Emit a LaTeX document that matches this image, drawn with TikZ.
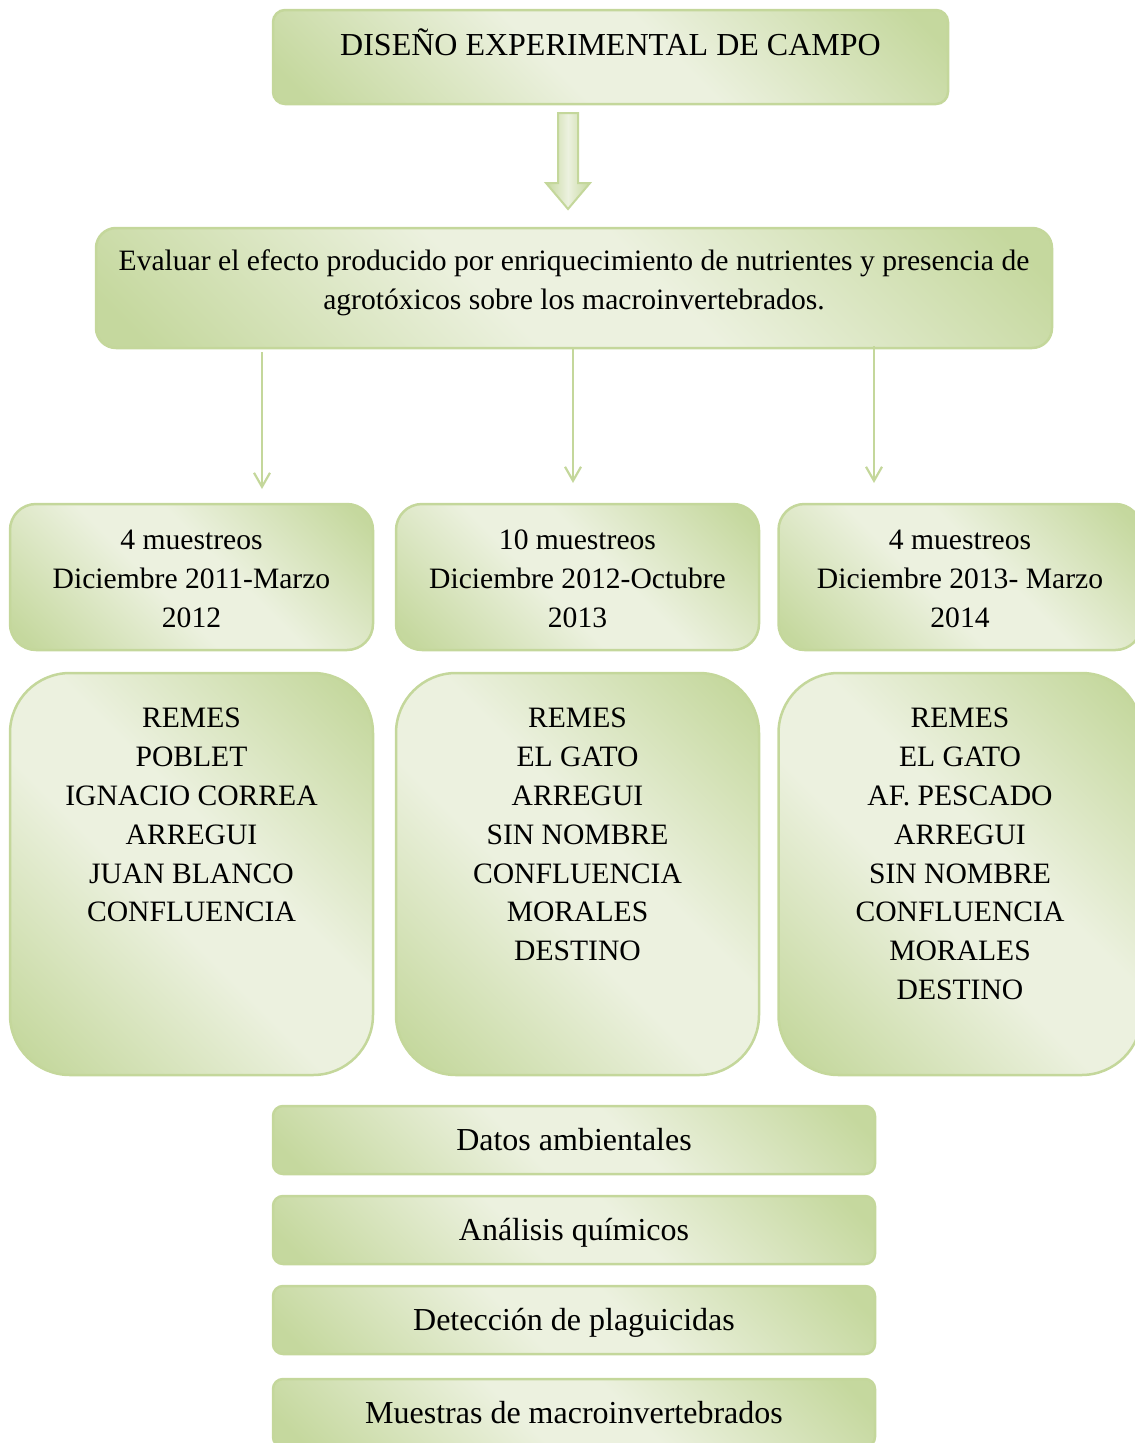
\documentclass[tikz,border=0pt]{standalone}
\usepackage{fontspec}
\setmainfont{Liberation Serif}
\usetikzlibrary{arrows.meta}
\begin{document}
\definecolor{gdark}{RGB}{197,216,158}
\definecolor{glight}{RGB}{236,241,223}
\definecolor{gline}{RGB}{196,215,155}
\pgfdeclarehorizontalshading{gsh}{100bp}{color(0bp)=(gdark); color(18bp)=(gdark); color(44bp)=(glight); color(56bp)=(glight); color(82bp)=(gdark); color(100bp)=(gdark)}
\begin{tikzpicture}[x=1pt,y=-1pt,
  gbox/.style={draw=gline, line width=2.5pt, shading=gsh, shading angle=45, inner sep=0pt},
  txt/.style={font=\fontsize{29.6}{38.8}\selectfont, align=center, text=black, inner sep=0pt},
  btxt/.style={font=\fontsize{32}{39}\selectfont, align=center, text=black, inner sep=0pt, anchor=base},
  conn/.style={draw=gline, line width=2.2pt, -{Straight Barb[length=14pt,width=16pt,line width=2.2pt]}}]
\useasboundingbox (0,0) rectangle (1135,1443);
\clip (0,0) rectangle (1135,1443);
% top box
\node[gbox, rounded corners=12pt, minimum width=675pt, minimum height=94pt] (top) at (610.5,57) {};
\node[btxt] (toptxt) at (610.5,55) {DISEÑO EXPERIMENTAL DE CAMPO};
% block arrow
\coordinate (ba) at (568,113);
\draw[gline, line width=2pt, left color=gdark, right color=gdark, middle color=glight]
  (558,113) -- (578,113) -- (578,183) -- (590,183) -- (568,209) -- (546,183) -- (558,183) -- cycle;
% objective box
\node[gbox, rounded corners=20pt, minimum width=956pt, minimum height=120pt] (obj) at (574,288) {};
\node[txt] (objtxt) at (574,283) {Evaluar el efecto producido por enriquecimiento de nutrientes y presencia de\\agrotóxicos sobre los macroinvertebrados.};
% row 1
\node[gbox, rounded corners=26pt, minimum width=363pt, minimum height=146pt] (a1) at (191.5,577) {};
\node[gbox, rounded corners=26pt, minimum width=363pt, minimum height=146pt] (b1) at (577.5,577) {};
\node[gbox, rounded corners=26pt, minimum width=363pt, minimum height=146pt] (c1) at (960,577) {};
\node[txt] (a1t) at (191.5,579) {4 muestreos\\Diciembre 2011-Marzo\\2012};
\node[txt] (b1t) at (577.5,579) {10 muestreos\\Diciembre 2012-Octubre\\2013};
\node[txt] (c1t) at (960,579) {4 muestreos\\Diciembre 2013- Marzo\\2014};
% arrows
\coordinate (s1) at (262,352); \coordinate (e1) at (262,489);
\coordinate (s2) at (573,348); \coordinate (e2) at (573,483);
\coordinate (s3) at (874,346); \coordinate (e3) at (874,483);
\draw[conn] (s1) -- (e1);
\draw[conn] (s2) -- (e2);
\draw[conn] (s3) -- (e3);
% row 2
\node[gbox, rounded corners=60pt, minimum width=363pt, minimum height=402pt] (a2) at (191.5,874) {};
\node[gbox, rounded corners=60pt, minimum width=363pt, minimum height=402pt] (b2) at (577.5,874) {};
\node[gbox, rounded corners=60pt, minimum width=363pt, minimum height=402pt] (c2) at (960,874) {};
\node[txt, anchor=north] (a2t) at (191.5,708) {REMES\\POBLET\\IGNACIO CORREA\\ARREGUI\\JUAN BLANCO\\CONFLUENCIA};
\node[txt, anchor=north] (b2t) at (577.5,708) {REMES\\EL GATO\\ARREGUI\\SIN NOMBRE\\CONFLUENCIA\\MORALES\\DESTINO};
\node[txt, anchor=north] (c2t) at (960,708) {REMES\\EL GATO\\AF. PESCADO\\ARREGUI\\SIN NOMBRE\\CONFLUENCIA\\MORALES\\DESTINO};
% bottom boxes
\node[gbox, rounded corners=10pt, minimum width=602pt, minimum height=68pt] (d1) at (574,1140) {};
\node[btxt] (d1t) at (574,1150) {Datos ambientales};
\node[gbox, rounded corners=10pt, minimum width=602pt, minimum height=68pt] (d2) at (574,1230) {};
\node[btxt] (d2t) at (574,1240) {Análisis químicos};
\node[gbox, rounded corners=10pt, minimum width=602pt, minimum height=68pt] (d3) at (574,1320) {};
\node[btxt] (d3t) at (574,1330) {Detección de plaguicidas};
\node[gbox, rounded corners=10pt, minimum width=602pt, minimum height=68pt] (d4) at (574,1413) {};
\node[btxt] (d4t) at (574,1423) {Muestras de macroinvertebrados};
\end{tikzpicture}
\end{document}
